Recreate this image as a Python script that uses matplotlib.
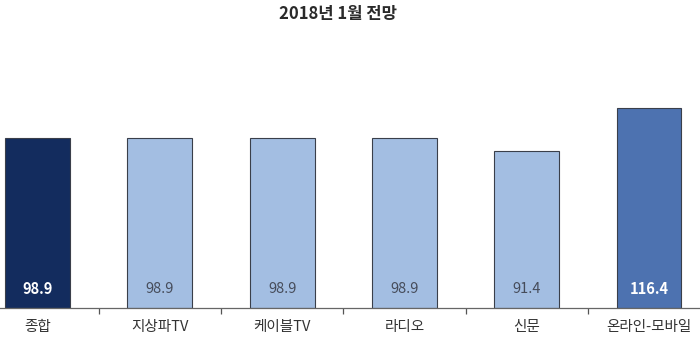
import matplotlib
matplotlib.use("Agg")
import matplotlib.pyplot as plt
import numpy as np

plt.rcParams['font.family'] = ['Noto Sans CJK KR', 'DejaVu Sans']

categories = ["종합", "지상파TV", "케이블TV", "라디오", "신문", "온라인-모바일"]
values = [98.9, 98.9, 98.9, 98.9, 91.4, 116.4]
title = "2018년 1월 전망"

bar_colors = ["#132c5e", "#a3bee2", "#a3bee2", "#a3bee2", "#a3bee2", "#4d72b0"]
label_colors = ["white", "#464c5a", "#464c5a", "#464c5a", "#464c5a", "white"]

W, H = 700, 339
fig = plt.figure(figsize=(W / 100, H / 100), dpi=100)
base_px, top_px = 308, 60
ax = fig.add_axes([0, (H - base_px) / H, 1, (base_px - top_px) / H])

x = np.arange(len(categories))
ax.bar(x, values, width=0.53, color=bar_colors, edgecolor="#3a3f4a", linewidth=0.8, zorder=2)

ax.set_xlim(-0.307, 5.417)
ax.set_ylim(0, (base_px - top_px) / 1.719)

for xi, v, c in zip(x, values, label_colors):
    ax.text(xi, 11, f"{v:.1f}", ha="center", va="center", color=c,
            fontsize=10.5, fontweight="bold" if c == "white" else "normal")

for s in ["top", "right", "left"]:
    ax.spines[s].set_visible(False)
ax.spines["bottom"].set_color("#666666")
ax.spines["bottom"].set_linewidth(0.9)
ax.set_yticks([])
ax.set_xticks(x[:-1] + 0.5)
ax.set_xticklabels([])
ax.tick_params(axis="x", which="major", length=4, color="#555555", width=0.9, direction="out")

for xi, cat in zip(x, categories):
    ax.text(xi, -11.3, cat, ha="center", va="center", fontsize=10.5, color="#333333")

fig.text(338 / W, 1 - 14 / H, title, ha="center", va="center", fontsize=12, color="#2a2a2a", fontweight="bold")

fig.savefig("out.png", dpi=100)
